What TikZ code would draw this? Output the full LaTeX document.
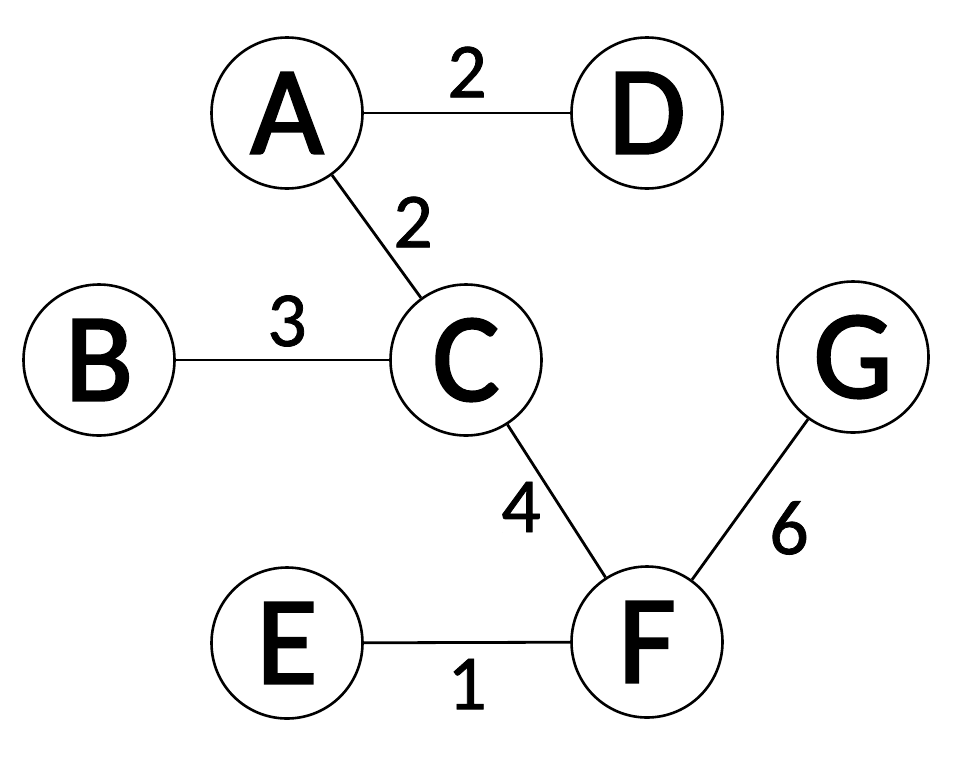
\documentclass[tikz,border=0pt]{standalone}
\usepackage{fontspec}
\setmainfont{Carlito}
\newfontfamily\vtxfont[FakeBold=2]{Carlito}
\newfontfamily\wtfont[FakeBold=1]{Carlito}
\begin{document}
\begin{tikzpicture}[x=1pt,y=-1pt,
  vtx/.style={circle,draw=black,line width=2.6pt,minimum size=151pt,inner sep=0pt,font=\vtxfont\fontsize{126}{126}\selectfont},
  edge/.style={line width=2.8pt},
  wt/.style={font=\wtfont\fontsize{78}{78}\selectfont,inner sep=0pt}]
\useasboundingbox (0,0) rectangle (976,782);
\node[vtx] (A) at (287,113) {A};
\node[vtx] (D) at (647,113) {D};
\node[vtx] (B) at (99,360) {B};
\node[vtx] (C) at (466,360) {C};
\node[vtx] (G) at (853,357) {G};
\node[vtx] (E) at (287,643) {E};
\node[vtx] (F) at (647,642) {F};
\draw[edge] (A) -- (D);
\draw[edge] (A) -- (C);
\draw[edge] (B) -- (C);
\draw[edge] (C) -- (F);
\draw[edge] (G) -- (F);
\draw[edge] (E) -- (F);
\node[wt] (wAD) at (467,72) {2};
\node[wt] (wAC) at (413,222) {2};
\node[wt] (wBC) at (287,321) {3};
\node[wt] (wCF) at (521,507) {4};
\node[wt] (wGF) at (789,528) {6};
\node[wt] (wEF) at (467,684) {1};
\end{tikzpicture}
\end{document}
